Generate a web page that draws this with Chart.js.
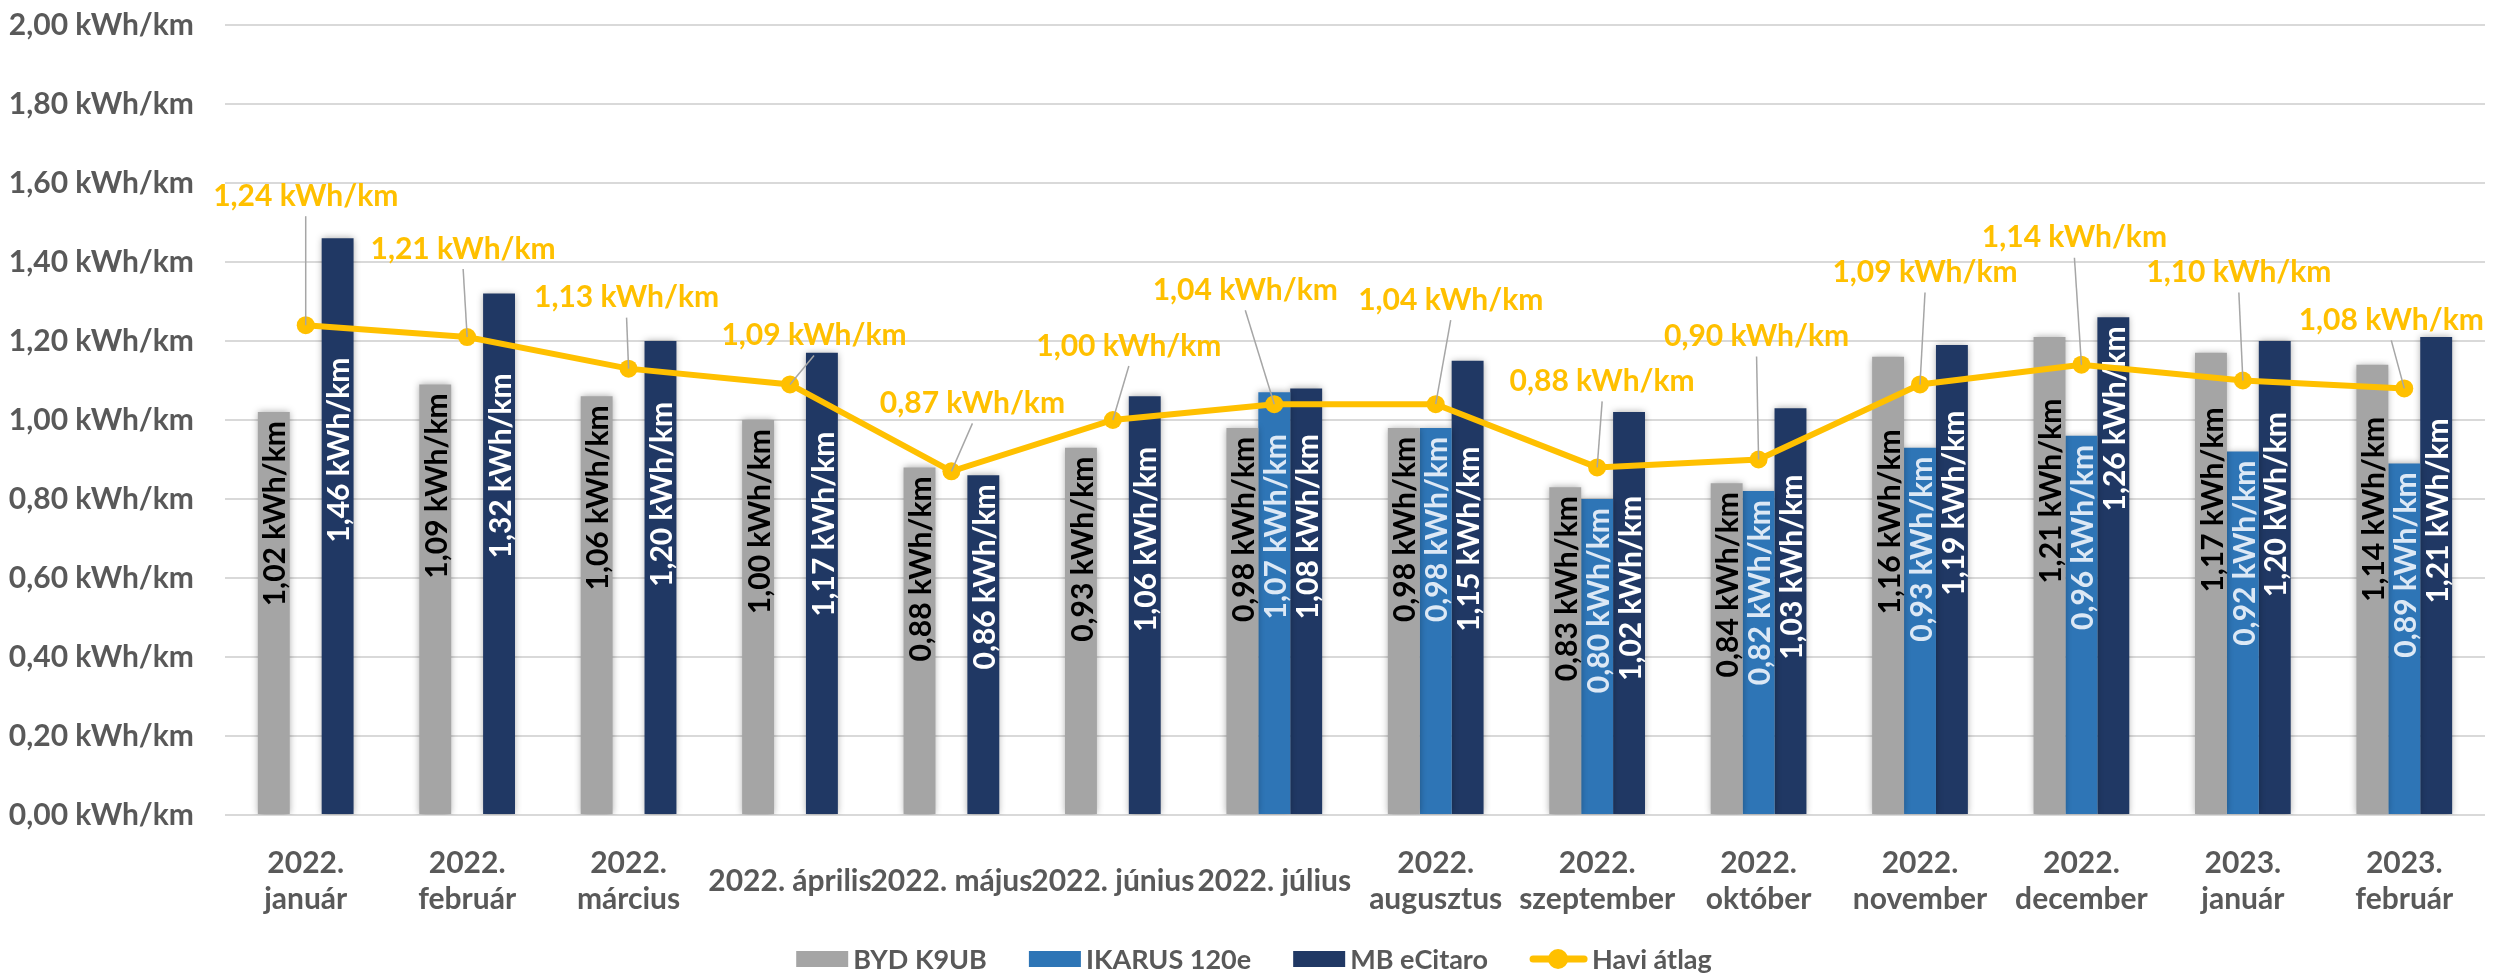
<!DOCTYPE html>
<html>
<head>
<meta charset="utf-8">
<script src="https://cdn.jsdelivr.net/npm/chart.js@4.4.0/dist/chart.umd.min.js"></script>
<style>
  html, body { margin: 0; padding: 0; background: #fff; }
</style>
</head>
<body>
<canvas id="grafikon" width="2494" height="973"></canvas>
<script>
const honapok = [
  ['2022.', 'január'], ['2022.', 'február'], ['2022.', 'március'],
  '2022. április', '2022. május', '2022. június', '2022. július',
  ['2022.', 'augusztus'], ['2022.', 'szeptember'], ['2022.', 'október'],
  ['2022.', 'november'], ['2022.', 'december'], ['2023.', 'január'], ['2023.', 'február']
];
const byd    = [1.02, 1.09, 1.06, 1.00, 0.88, 0.93, 0.98, 0.98, 0.83, 0.84, 1.16, 1.21, 1.17, 1.14];
const ikarus = [null, null, null, null, null, null, 1.07, 0.98, 0.80, 0.82, 0.93, 0.96, 0.92, 0.89];
const mb     = [1.46, 1.32, 1.20, 1.17, 0.86, 1.06, 1.08, 1.15, 1.02, 1.03, 1.19, 1.26, 1.20, 1.21];
const haviAtlag = [1.24, 1.21, 1.13, 1.09, 0.87, 1.00, 1.04, 1.04, 0.88, 0.90, 1.09, 1.14, 1.10, 1.08];
const yMin = 0, yMax = 2, yStep = 0.2;

const FONT = 'Lato';
const szurke = '#595959';
const fmt = v => v.toFixed(2).replace('.', ',') + ' kWh/km';

// where the average labels sit relative to their point (px)
const atlagCimkeEltolas = [
  [0, -129], [-4, -88], [-2, -71], [24, -49], [21, -68], [16, -74], [-29, -114],
  [15, -104], [5, -86], [-2, -123], [5, -112], [-7, -127], [-4, -108], [-13, -68]
];
const oszlopCimkeSzin = ['#000000', '#DCE8F5', '#FFFFFF'];

// y of the average line at a given x
const vonalY = (pts, x) => {
  if (x <= pts[0].x) return pts[0].y;
  for (let i = 0; i < pts.length - 1; i++) {
    const a = pts[i], b = pts[i + 1];
    if (x <= b.x) return a.y + (b.y - a.y) * (x - a.x) / (b.x - a.x);
  }
  return pts[pts.length - 1].y;
};

const rajzolOszlopCimkek = (chart) => {
  const ctx = chart.ctx;
  const pts = chart.getDatasetMeta(3).data;
  ctx.save();
  ctx.font = `bold 30px ${FONT}`;
  ctx.textAlign = 'right';
  ctx.textBaseline = 'middle';
  [0, 1, 2].forEach(di => {
    const meta = chart.getDatasetMeta(di);
    meta.data.forEach((bar, i) => {
      const v = chart.data.datasets[di].data[i];
      if (v == null) return;
      // inside end, but pushed under the average line when it crosses the bar
      let teteje = bar.y + 9;
      const ly = vonalY(pts, bar.x);
      if (ly + 12 > bar.y && !(di === 2 && i === 11)) teteje = Math.max(teteje, ly + 30);
      ctx.save();
      ctx.translate(bar.x + 2, teteje);
      ctx.rotate(-Math.PI / 2);
      ctx.fillStyle = oszlopCimkeSzin[di];
      ctx.fillText(fmt(v), 0, 0);
      ctx.restore();
    });
  });
  ctx.restore();
};

const feliratok = {
  id: 'feliratok',
  beforeDatasetDraw(chart, args) {
    const ds = chart.data.datasets[args.index];
    if (ds.type === 'bar') {
      chart.ctx.save();
      chart.ctx.shadowColor = 'rgba(0,0,0,0.35)';
      chart.ctx.shadowBlur = 7;
    } else {
      rajzolOszlopCimkek(chart);
    }
  },
  afterDatasetDraw(chart, args) {
    if (chart.data.datasets[args.index].type === 'bar') chart.ctx.restore();
  },
  afterDatasetsDraw(chart) {
    const ctx = chart.ctx;
    const meta = chart.getDatasetMeta(3);
    ctx.save();
    ctx.font = `bold 30px ${FONT}`;
    ctx.textAlign = 'center';
    ctx.textBaseline = 'middle';
    meta.data.forEach((pt, i) => {
      const [dx, dy] = atlagCimkeEltolas[i];
      const lx = pt.x + dx, ly = pt.y + dy;
      const sy = ly + 20;
      if (pt.y - sy > 20) {
        ctx.strokeStyle = '#A6A6A6';
        ctx.lineWidth = 1.5;
        ctx.beginPath();
        ctx.moveTo(lx, sy);
        ctx.lineTo(pt.x, pt.y);
        ctx.stroke();
      }
      ctx.fillStyle = '#FFC000';
      ctx.fillText(fmt(haviAtlag[i]), lx, ly);
    });
    ctx.restore();
  },
  afterDraw(chart) {
    // legend like the excel one: wide boxes, line with marker
    const ctx = chart.ctx;
    ctx.save();
    ctx.font = `bold 27px ${FONT}`;
    ctx.textBaseline = 'middle';
    const elemek = chart.data.datasets.map(ds => ({
      szoveg: ds.label, szin: ds.type === 'line' ? ds.borderColor : ds.backgroundColor, vonal: ds.type === 'line'
    }));
    const jel = e => (e.vonal ? 57 : 52);
    const szel = elemek.map(e => jel(e) + 5 + ctx.measureText(e.szoveg).width);
    const gap = 42;
    const total = szel.reduce((a, b) => a + b, 0) + gap * (elemek.length - 1);
    let x = chart.width / 2 + 7 - total / 2;
    const y = 959;
    elemek.forEach((e, i) => {
      if (e.vonal) {
        ctx.strokeStyle = e.szin;
        ctx.lineWidth = 7;
        ctx.lineCap = 'round';
        ctx.beginPath();
        ctx.moveTo(x + 3, y);
        ctx.lineTo(x + 54, y);
        ctx.stroke();
        ctx.fillStyle = e.szin;
        ctx.beginPath();
        ctx.arc(x + 28, y, 10, 0, Math.PI * 2);
        ctx.fill();
      } else {
        ctx.fillStyle = e.szin;
        ctx.fillRect(x, y - 8, 52, 16);
      }
      ctx.fillStyle = szurke;
      ctx.fillText(e.szoveg, x + jel(e) + 5, y + 1);
      x += szel[i] + gap;
    });
    ctx.restore();
  }
};

new Chart(document.getElementById('grafikon'), {
  type: 'bar',
  data: {
    labels: honapok,
    datasets: [
      { type: 'bar', label: 'BYD K9UB', data: byd, backgroundColor: '#A5A5A5', order: 1,
        categoryPercentage: 0.593, barPercentage: 1 },
      { type: 'bar', label: 'IKARUS 120e', data: ikarus, backgroundColor: '#2E75B6', order: 1,
        categoryPercentage: 0.593, barPercentage: 1 },
      { type: 'bar', label: 'MB eCitaro', data: mb, backgroundColor: '#203864', order: 1,
        categoryPercentage: 0.593, barPercentage: 1 },
      { type: 'line', label: 'Havi átlag', data: haviAtlag, borderColor: '#FFC000',
        backgroundColor: '#FFC000', borderWidth: 6, pointRadius: 9, pointBorderWidth: 0,
        pointBackgroundColor: '#FFC000', tension: 0, order: 0 }
    ]
  },
  options: {
    responsive: false,
    animation: false,
    devicePixelRatio: 1,
    layout: { padding: { top: 25, right: 1, bottom: 18, left: 0 } },
    plugins: {
      legend: { display: false },
      tooltip: { enabled: false }
    },
    scales: {
      x: {
        grid: { display: false },
        border: { display: false },
        ticks: {
          color: szurke, font: { family: FONT, size: 30, weight: 'bold', lineHeight: 1.2 },
          padding: 40, maxRotation: 0, autoSkip: false, crossAlign: 'center'
        },
        afterFit: s => { s.height = 140; }
      },
      y: {
        min: yMin, max: yMax,
        border: { display: false },
        grid: { color: '#D9D9D9', lineWidth: 2, drawTicks: false },
        ticks: {
          stepSize: yStep, color: szurke, padding: 31,
          font: { family: FONT, size: 30, weight: 'bold' },
          callback: v => fmt(v)
        },
        afterFit: s => { s.width = 225; s.paddingTop = 0; s.paddingBottom = 0; }
      }
    }
  },
  plugins: [feliratok]
});
</script>
</body>
</html>
